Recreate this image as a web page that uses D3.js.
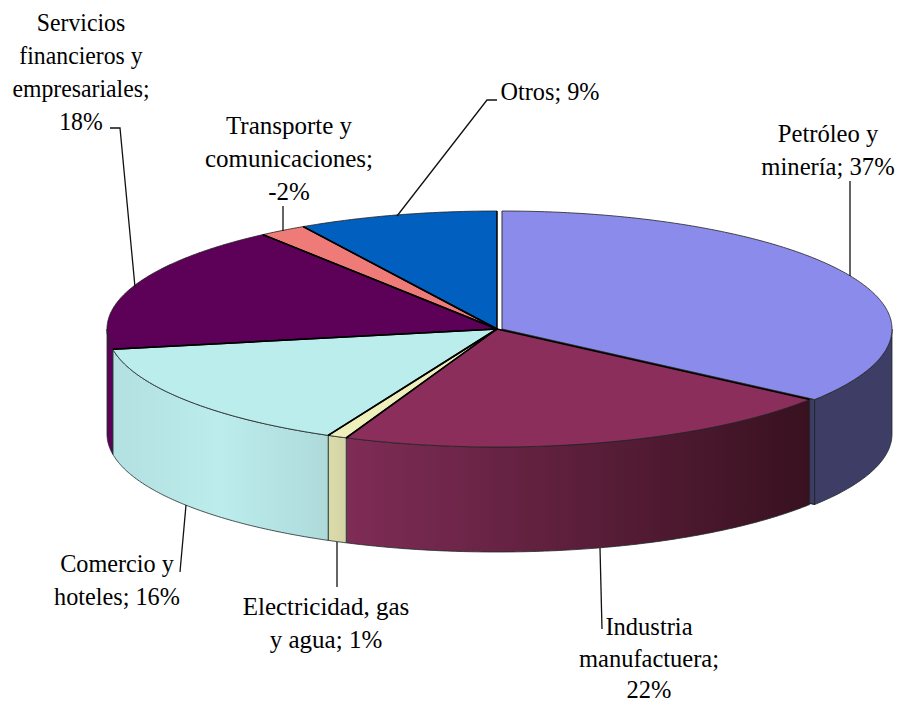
<!DOCTYPE html>
<html><head><meta charset="utf-8">
<script src="https://cdn.jsdelivr.net/npm/d3@7"></script>
<style>html,body{margin:0;background:#fff}svg{display:block}</style></head>
<body><svg id="c" width="899" height="704"></svg>
<script>
const categories = ["Petróleo y minería","Industria manufactuera","Electricidad, gas y agua","Comercio y hoteles","Servicios financieros y empresariales","Transporte y comunicaciones","Otros"];
const shownValues = [37,22,1,16,18,-2,9];
const sliceValues = [37,22.2,0.85,15.9,18.4,2.07,8.7];
const topColors = ["#8b8bec","#8b2e5c","#efefbb","#bbeded","#5c0058","#ef7b78","#005fbf"];
const wallStops = [["#3d3d66","#3d3d66"],["#7f2c56","#38111f"],["#dcdcaa","#d2d2a6"],["#b3e0e0","#bcecec","#aedada"],["#5c0058","#5c0058"],["#ef7b78","#ef7b78"],["#005fbf","#005fbf"]];
const labelLines = [["Petróleo y","minería; 37%"],["Industria","manufactuera;","22%"],["Electricidad, gas","y agua; 1%"],["Comercio y","hoteles; 16%"],["Servicios","financieros y","empresariales;","18%"],["Transporte y","comunicaciones;","-2%"],["Otros; 9%"]];

const cx=497, cy=329, rx=390, ry=118, depth=105;
const FS=25;
const labelLH=[33,31.7,33,33,33,33,33];
const labelXS=[0.985,0.98,1.0,0.97,0.95,1.0,0.97];
const labelPos=[[828,142],[649,635],[326,615],[117,572],[81,31],[289,134],[550,100]];
const leaders=[
  [[850,181],[850,276]],
  [[602,629],[600,548]],
  [[337,587],[337,542]],
  [[180,572],[186,505]],
  [[110,128],[120,128],[135,287]],
  [[283,206],[283,231]],
  [[497,100],[487,100],[397,216]]
];
const offsetX=[5,0,0,0,0,0,0];

const svg=d3.select("#c");
const defs=svg.append("defs");
const pie=d3.pie().sort(null).value(d=>d).startAngle(0).endAngle(2*Math.PI);
const arcs=pie(sliceValues).map((a,i)=>({...a,i,ox:offsetX[i]}));
const px=(a,ox=0)=>cx+ox+rx*Math.sin(a), py=a=>cy-ry*Math.cos(a);
function rimPts(a0,a1,ox,dy=0){
  const n=Math.max(4,Math.ceil((a1-a0)/0.01)); const s=d3.scaleLinear().domain([0,n]).range([a0,a1]);
  return d3.range(n+1).map(k=>[px(s(k),ox),py(s(k))+dy]);
}
const line=d3.line();
// radial cut face of the pulled-out slice, seen as a sliver
const exploded=arcs.filter(d=>d.ox>0);
svg.append("g").selectAll("path").data(exploded).join("path")
  .attr("d",d=>{const a=d.endAngle,c=[cx+d.ox,cy],e=[px(a,d.ox),py(a)];
    return line([c,e,[e[0],e[1]+depth],[c[0],c[1]+depth]])+"Z";})
  .attr("fill",d=>wallStops[d.i][0]).attr("stroke","#111").attr("stroke-width",1);
// walls
const lo=Math.PI/2, hi=3*Math.PI/2;
const walls=arcs.filter(d=>d.endAngle>lo&&d.startAngle<hi).map(d=>{
  const a0=Math.max(d.startAngle,lo),a1=Math.min(d.endAngle,hi);
  const xs=[px(a0,d.ox),px(a1,d.ox)];
  const st=wallStops[d.i], gid="w"+d.i;
  const g=defs.append("linearGradient").attr("id",gid).attr("gradientUnits","userSpaceOnUse")
    .attr("x1",Math.min(...xs)).attr("x2",Math.max(...xs)).attr("y1",0).attr("y2",0);
  st.forEach((c,k)=>g.append("stop").attr("offset",k/(st.length-1)).attr("stop-color",c));
  const top=rimPts(a0,a1,d.ox), bot=rimPts(a0,a1,d.ox,depth).reverse();
  return {d,path:line(top.concat(bot))+"Z",gid};
});
svg.append("g").selectAll("path").data(walls).join("path")
  .attr("d",w=>w.path).attr("fill",w=>`url(#${w.gid})`).attr("stroke","#1c2a2a").attr("stroke-width",1).attr("stroke-opacity",.8).attr("stroke-linejoin","round");
// tops
svg.append("g").selectAll("path").data(arcs).join("path")
  .attr("d",d=>line([[cx+d.ox,cy]].concat(rimPts(d.startAngle,d.endAngle,d.ox)))+"Z")
  .attr("fill",d=>topColors[d.i]).attr("stroke","none");
svg.append("g").selectAll("path").data(arcs).join("path")
  .attr("d",d=>line(rimPts(d.startAngle,d.endAngle,d.ox)))
  .attr("fill","none").attr("stroke","#222").attr("stroke-width",1).attr("stroke-opacity",.8);
svg.append("g").selectAll("path").data(arcs).join("path")
  .attr("d",d=>line([[px(d.startAngle,d.ox),py(d.startAngle)],[cx+d.ox,cy],[px(d.endAngle,d.ox),py(d.endAngle)]]))
  .attr("fill","none").attr("stroke",d=>d.ox>0?"#333":"#000").attr("stroke-width",d=>d.ox>0?1:1.5).attr("stroke-linejoin","round");
// leaders
svg.append("g").selectAll("path").data(leaders).join("path")
  .attr("d",d=>line(d)).attr("fill","none").attr("stroke","#111").attr("stroke-width",1.3);
// labels
const tg=svg.append("g").attr("font-family","'Liberation Serif',serif").attr("font-size",FS).attr("fill","#000");
labelLines.forEach((ls,i)=>{
  ls.forEach((s,k)=>tg.append("text").attr("text-anchor","middle")
    .attr("transform",`translate(${labelPos[i][0]},${labelPos[i][1]+k*labelLH[i]}) scale(${labelXS[i]},1)`).text(s));
});
</script></body></html>
